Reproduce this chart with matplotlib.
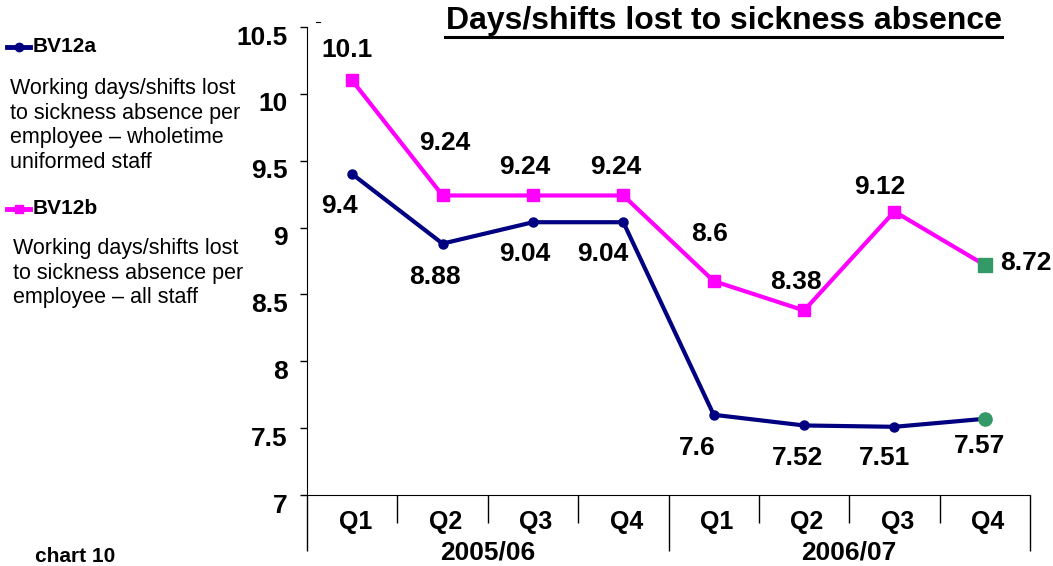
import matplotlib
matplotlib.use("Agg")
import matplotlib.pyplot as plt
from matplotlib.lines import Line2D
import matplotlib.transforms as mtransforms

plt.rcParams['font.family'] = ['Liberation Sans', 'DejaVu Sans']

# data
quarters = ["Q1", "Q2", "Q3", "Q4", "Q1", "Q2", "Q3", "Q4"]
years = ["2005/06", "2006/07"]
bv12a = [9.4, 8.88, 9.04, 9.04, 7.6, 7.52, 7.51, 7.57]
bv12b = [10.1, 9.24, 9.24, 9.24, 8.6, 8.38, 9.12, 8.72]
yticks = [7, 7.5, 8, 8.5, 9, 9.5, 10, 10.5]
ytick_labels = ["7", "7.5", "8", "8.5", "9", "9.5", "10", "10.5"]

NAVY = "#000080"
PINK = "#FF00FF"
GREEN = "#339966"

W, H = 1053, 566
fig = plt.figure(figsize=(W / 100, H / 100), dpi=100)
ax = fig.add_axes([307 / W, 1 - 495 / H, 723 / W, 468 / H])

x = list(range(len(quarters)))
ax.plot(x, bv12a, color=NAVY, lw=3, marker="o", ms=6.5, zorder=3)
ax.plot(x, bv12b, color=PINK, lw=3, marker="s", ms=8, zorder=3)
# latest quarter highlighted in green
ax.plot(x[-1], bv12a[-1], marker="o", ms=9.5, color=GREEN, zorder=4)
ax.plot(x[-1], bv12b[-1], marker="s", ms=10, color=GREEN, zorder=4)

ax.set_xlim(-0.5, 7.5)
ax.set_ylim(7, 10.5)
ax.set_yticks(yticks)
ax.set_yticklabels(ytick_labels, fontsize=19, fontweight="bold")
ax.tick_params(axis="y", length=5, width=1, pad=9)
shift = mtransforms.ScaledTranslation(0, -8 / 100, fig.dpi_scale_trans)
for lab in ax.get_yticklabels():
    lab.set_transform(lab.get_transform() + shift)

for s in ["top", "right"]:
    ax.spines[s].set_visible(False)

# category divider ticks below the x axis
ax.set_xticks([-0.5, 3.5, 7.5])
ax.set_xticks([0.5, 1.5, 2.5, 4.5, 5.5, 6.5], minor=True)
ax.set_xticklabels([])
ax.tick_params(axis="x", which="major", length=40, width=1)
ax.tick_params(axis="x", which="minor", length=20, width=1)

trans = mtransforms.blended_transform_factory(ax.transData, ax.transAxes)
for i, q in enumerate(quarters):
    ax.annotate(q, (i, 0), xycoords=trans, xytext=(3, -27),
                textcoords="offset pixels", ha="center", va="center",
                fontsize=18, fontweight="bold", annotation_clip=False)
for k, yr in enumerate(years):
    ax.annotate(yr, (1.5 + 4 * k, 0), xycoords=trans, xytext=(0, -57),
                textcoords="offset pixels", ha="center", va="center",
                fontsize=19, fontweight="bold", annotation_clip=False)

# data labels (offsets in pixels)
a_off = [(-13, -32), (-8, -33), (-8, -32), (-21, -32), (-16, -33), (-7, -33), (-10, -31), (-5, -27)]
b_off = [(-5, 30), (2, 52), (-8, 28), (-8, 28), (-4, 47), (-8, 28), (-15, 25), (41, 2)]
for i, v in enumerate(bv12a):
    ax.annotate(f"{v:g}", (i, v), xytext=a_off[i], textcoords="offset pixels",
                ha="center", va="center", fontsize=19, fontweight="bold")
for i, v in enumerate(bv12b):
    ax.annotate(f"{v:g}", (i, v), xytext=b_off[i], textcoords="offset pixels",
                ha="center", va="center", fontsize=19, fontweight="bold")

# title with underline
fig.text(723.5 / W, 1 - 21 / H, "Days/shifts lost to sickness absence",
         ha="center", va="center", fontsize=23, fontweight="bold")
fig.add_artist(Line2D([445 / W, 1002 / W], [1 - 37 / H, 1 - 37 / H],
                      color="black", lw=2.2, transform=fig.transFigure))
# stray little tick mark above the axis
fig.add_artist(Line2D([316 / W, 320 / W], [1 - 22 / H, 1 - 22 / H],
                      color="black", lw=0.8, transform=fig.transFigure))

# legend / description block on the left
def legend_entry(y, color, marker, label):
    yf = 1 - y / H
    fig.add_artist(Line2D([7 / W, 30 / W], [yf, yf], color=color, lw=3.5,
                          transform=fig.transFigure))
    fig.add_artist(Line2D([19 / W], [yf], color=color, marker=marker, ms=6,
                          transform=fig.transFigure))
    fig.text(33 / W, yf, label, ha="left", va="center",
             fontsize=15, fontweight="bold")

legend_entry(47, NAVY, "o", "BV12a")
fig.text(10 / W, 1 - 78 / H,
         "Working days/shifts lost\nto sickness absence per\nemployee \u2013 wholetime\nuniformed staff",
         ha="left", va="top", fontsize=15.5, linespacing=1.22)
legend_entry(209, PINK, "s", "BV12b")
fig.text(13 / W, 1 - 238 / H,
         "Working days/shifts lost\nto sickness absence per\nemployee \u2013 all staff",
         ha="left", va="top", fontsize=15.5, linespacing=1.22)

fig.text(35 / W, 1 - 557 / H, "chart 10", ha="left", va="center",
         fontsize=15, fontweight="bold")

fig.savefig("out.png", dpi=100)
